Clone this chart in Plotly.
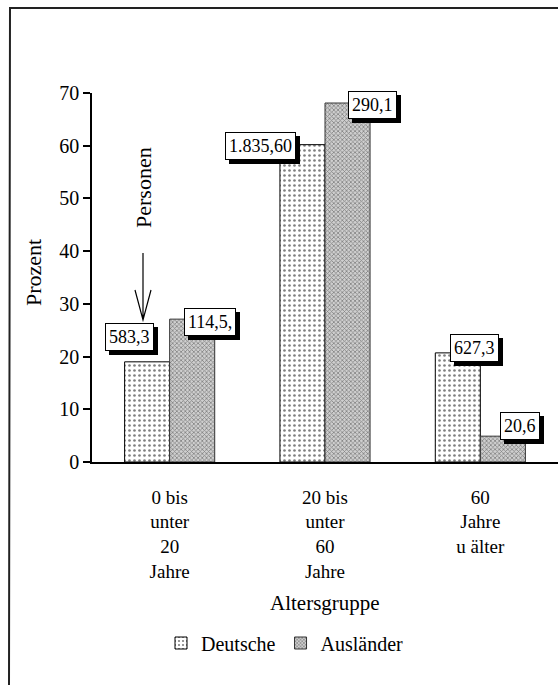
import plotly.graph_objects as go

# ---- data ----
categories = ["0 bis<br>unter<br>20<br>Jahre", "20 bis<br>unter<br>60<br>Jahre", "60<br>Jahre<br>u älter"]
deutsche_pct = [19.0, 60.2, 20.7]
auslaender_pct = [27.1, 68.1, 4.9]
deutsche_pers = ["583,3", "1.835,60", "627,3"]
auslaender_pers = ["114,5,", "290,1", "20,6"]
y_ticks = [0, 10, 20, 30, 40, 50, 60, 70]

FONT = "Liberation Serif"
W, H = 558, 685
L, R, T, B = 92, 0, 93, 223
PW, PH = W - L - R, H - T - B


def px(x):
    return (x - L) / PW


def py(y):
    return (H - B - y) / PH


fig = go.Figure()
fig.add_trace(go.Bar(
    name="Deutsche", x=list(range(3)), y=deutsche_pct,
    marker=dict(color="white",
                pattern=dict(shape=".", fgcolor="black", bgcolor="white", size=5, solidity=0.22),
                line=dict(color="black", width=1)),
))
fig.add_trace(go.Bar(
    name="Ausländer", x=list(range(3)), y=auslaender_pct,
    marker=dict(color="#999",
                pattern=dict(shape="x", fgcolor="#333", bgcolor="#cfcfcf", size=3, solidity=0.45),
                line=dict(color="#333", width=1)),
))

annotations = []
# label boxes (offsets in px relative to category centre / bar top)
d_off = [(-40, 25), (-65, -1), (-6, 5)]
a_off = [(40, -3), (47, -2), (40, 10)]
for i in range(3):
    for txt, val, (dx, dy) in ((deutsche_pers[i], deutsche_pct[i], d_off[i]),
                               (auslaender_pers[i], auslaender_pct[i], a_off[i])):
        for shadow in (True, False):
            annotations.append(dict(
                x=i, y=val, xref="x", yref="y", text=txt, showarrow=False,
                xanchor="center", yanchor="middle",
                xshift=dx + (4 if shadow else 0), yshift=dy - (4 if shadow else 0),
                font=dict(family=FONT, size=18, color="black"),
                bgcolor="black" if shadow else "white",
                bordercolor="black", borderwidth=1, borderpad=3,
            ))

# Personen label
annotations.append(dict(x=px(143), y=py(188), xref="paper", yref="paper", text="Personen",
                        textangle=-90, showarrow=False, xanchor="center", yanchor="middle",
                        font=dict(family=FONT, size=22, color="black")))
# axis titles
annotations.append(dict(x=px(33), y=py(273), xref="paper", yref="paper", text="Prozent",
                        textangle=-90, showarrow=False, xanchor="center", yanchor="middle",
                        font=dict(family=FONT, size=22, color="black")))
annotations.append(dict(x=px(325), y=py(603), xref="paper", yref="paper", text="Altersgruppe",
                        showarrow=False, xanchor="center", yanchor="middle",
                        font=dict(family=FONT, size=21, color="black")))

shapes = [
    # page frame
    dict(type="path", xref="paper", yref="paper",
         path=f"M {px(9)},{py(690)} L {px(10)},{py(8)} L {px(560)},{py(8)}",
         line=dict(color="#222", width=2)),
    # arrow pointing to the label box
    dict(type="path", xref="paper", yref="paper",
         path=(f"M {px(143)},{py(253)} L {px(143)},{py(320)} "
               f"M {px(135)},{py(290)} L {px(143)},{py(320)} L {px(151)},{py(290)}"),
         line=dict(color="black", width=1.2)),
]

fig.update_layout(
    width=W, height=H, margin=dict(l=L, r=R, t=T, b=B, pad=0),
    paper_bgcolor="white", plot_bgcolor="white",
    barmode="group", bargap=0.42, bargroupgap=0,
    font=dict(family=FONT, size=18, color="black"),
    showlegend=True,
    legend=dict(orientation="h", x=px(285), y=py(643), xanchor="center", yanchor="middle",
                font=dict(family=FONT, size=20), itemwidth=30, bgcolor="rgba(0,0,0,0)"),
    xaxis=dict(type="linear", range=[-0.5, 2.5], tickvals=[0, 1, 2], ticktext=categories,
               ticks="outside", ticklen=17, tickcolor="rgba(0,0,0,0)",
               showline=True, linecolor="black", linewidth=1.5,
               showgrid=False, zeroline=False, tickfont=dict(family=FONT, size=19)),
    xaxis2=dict(overlaying="x", anchor="y", range=[-0.5, 2.5], tickvals=[0.5, 1.5],
                ticks="outside", ticklen=6, tickwidth=1.5, tickcolor="black",
                showticklabels=False, showgrid=False, zeroline=False, showline=False,
                side="bottom"),
    xaxis3=dict(overlaying="x", anchor="y", range=[-0.5, 2.5], tickvals=[0.5, 1.5],
                ticks="inside", ticklen=4, tickwidth=1.5, tickcolor="black",
                showticklabels=False, showgrid=False, zeroline=False, showline=False,
                side="bottom"),
    yaxis=dict(range=[0, 70], tickvals=y_ticks, ticks="outside", ticklen=7, tickwidth=1.5,
               tickcolor="black", showline=True, linecolor="black", linewidth=1.5,
               showgrid=False, zeroline=False, tickfont=dict(family=FONT, size=20)),
    yaxis2=dict(overlaying="y", anchor="x", side="left", range=[0, 70], tickvals=y_ticks,
                ticks="inside", ticklen=7, tickwidth=1.5, tickcolor="black",
                showticklabels=False, showgrid=False, zeroline=False, showline=False),
    annotations=annotations, shapes=shapes,
)
fig.write_html("out.html")
